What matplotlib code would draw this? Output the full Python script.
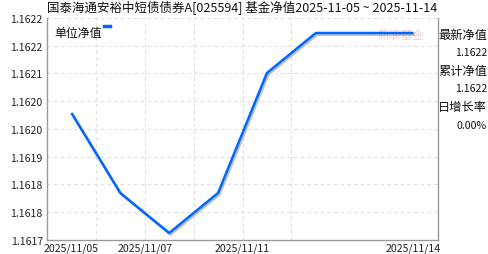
import matplotlib
matplotlib.use("Agg")
import matplotlib.pyplot as plt
import matplotlib.patheffects as pe
from matplotlib.ticker import FixedLocator, FuncFormatter

plt.rcParams['font.family'] = ['Noto Sans CJK SC', 'DejaVu Sans']

dates = ["2025/11/05", "2025/11/06", "2025/11/07", "2025/11/10",
         "2025/11/11", "2025/11/12", "2025/11/13", "2025/11/14"]
nav = [1.1620, 1.1618, 1.1617, 1.1618, 1.1621, 1.1622, 1.1622, 1.1622]
xtick_pos = [0, 1.5, 3.5, 7]
xtick_labels = ["2025/11/05", "2025/11/07", "2025/11/11", "2025/11/14"]
title = "国泰海通安裕中短债债券A[025594] 基金净值2025-11-05 ~ 2025-11-14"
side_labels = ["最新净值", "1.1622", "累计净值", "1.1622", "日增长率", "0.00%"]

W, H = 488, 255
fig = plt.figure(figsize=(W/100, H/100), dpi=100)
L, R, T, B = 47, 438, 19, 241
ax = fig.add_axes([L/W, 1-B/H, (R-L)/W, (B-T)/H])

x = list(range(len(nav)))
ax.plot(x, nav, color='#0066ff', lw=1.8, solid_capstyle='butt',
        path_effects=[pe.SimpleLineShadow(offset=(1.0, -1.2), shadow_color='#999999', alpha=0.6, linewidth=1.8),
                      pe.Normal()], zorder=3)

ymin, ymax = 1.1616825, 1.1622375
ax.set_ylim(ymin, ymax)
ax.set_xlim(-0.5, 7.5)
yt = [ymin + i*(ymax-ymin)/8 for i in range(9)]
ax.yaxis.set_major_locator(FixedLocator(yt))
ax.yaxis.set_major_formatter(FuncFormatter(lambda v, p: f"{v:.4f}"))
ax.set_xticks(xtick_pos)
ax.set_xticklabels(xtick_labels)
ax.tick_params(axis='both', length=0, labelsize=7.6, colors='#222222', pad=3)
ax.tick_params(axis='x', pad=2)

for v in yt[1:]:
    ax.axhline(v, color='#dddddd', lw=0.8, ls=(0, (3, 3)), zorder=1)
for gx in [0.5, 1.5, 2.5, 3.5, 4.5]:
    ax.axvline(gx, color='#dddddd', lw=0.8, ls=(0, (3, 3)), zorder=1)

for s in ['left', 'bottom', 'right']:
    ax.spines[s].set_color('#999999')
    ax.spines[s].set_linewidth(1.0)
ax.spines['top'].set_visible(False)

# legend
ax.text(0.018, 0.965, "单位净值", transform=ax.transAxes, fontsize=8.6, va='top', ha='left', color='#111111')
fig.add_artist(plt.Line2D([104/W, 110/W], [1-27/H, 1-27/H], color='#0066ff', lw=2.5))

# watermark
ax.text(0.965, 0.925, "新浪基金", transform=ax.transAxes, fontsize=8.5, color='#f8cccc',
        ha='right', va='center', zorder=0)

fig.text(47/W, 1-8/H, title, fontsize=9.0, ha='left', va='center', color='#111111')

ys = [35, 53, 71, 89, 108, 126]
for i, (t, yy) in enumerate(zip(side_labels, ys)):
    fig.text(487/W, 1-yy/H, t, fontsize=8.8 if i % 2 == 0 else 7.6, ha='right', va='center', color='#111111')

fig.savefig("out.png", dpi=100)
